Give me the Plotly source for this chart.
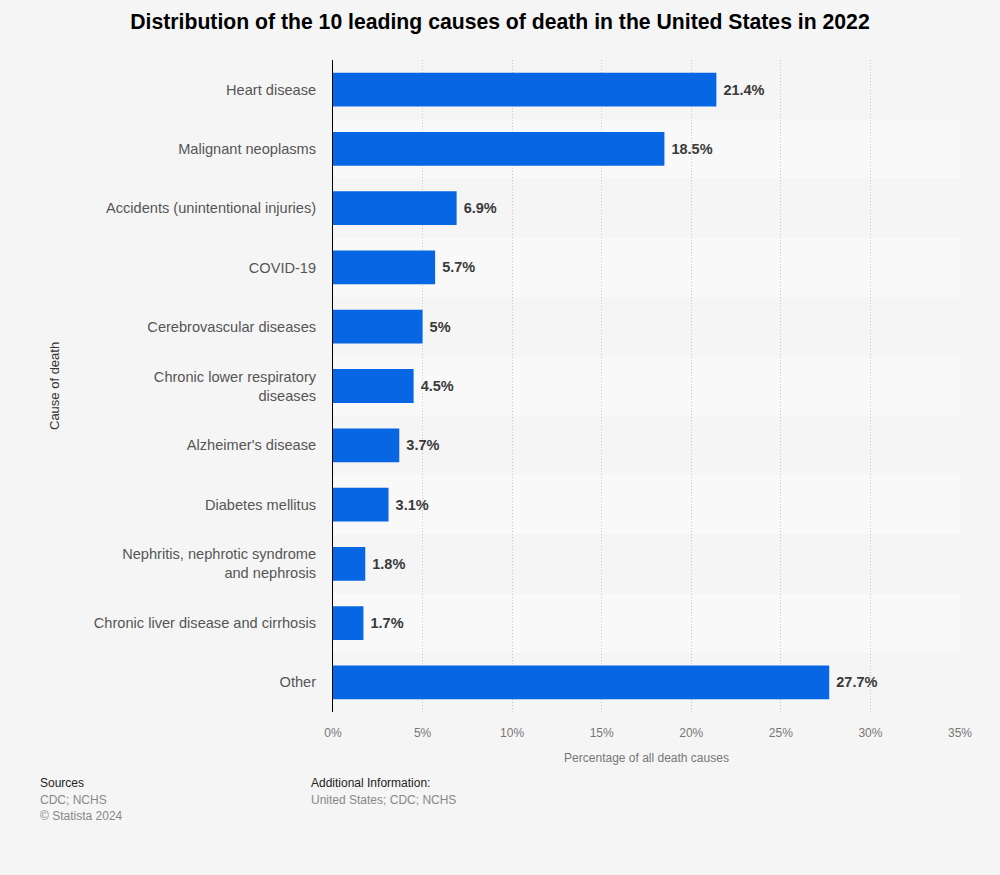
import plotly.graph_objects as go

categories = [
    "Heart disease",
    "Malignant neoplasms",
    "Accidents (unintentional injuries)",
    "COVID-19",
    "Cerebrovascular diseases",
    "Chronic lower respiratory<br>diseases",
    "Alzheimer's disease",
    "Diabetes mellitus",
    "Nephritis, nephrotic syndrome<br>and nephrosis",
    "Chronic liver disease and cirrhosis",
    "Other",
]
values = [21.4, 18.5, 6.9, 5.7, 5, 4.5, 3.7, 3.1, 1.8, 1.7, 27.7]
tick_vals = [0, 5, 10, 15, 20, 25, 30, 35]
tick_text = [f"{t}%" for t in tick_vals]
labels = [f"{v:g}%" for v in values]

FONT = "Liberation Sans, Arial, sans-serif"
L, R, T, B, W, H = 333, 40, 60, 163, 1000, 875

fig = go.Figure()
fig.add_trace(go.Bar(
    x=values, y=categories, orientation="h",
    marker=dict(color="#0766e4", line=dict(width=0)),
    width=0.57,
    text=labels, textposition="outside", cliponaxis=False,
    textfont=dict(family=FONT, size=14.5, color="#3a3a3a"),
    texttemplate="\u00a0<b>%{text}</b>",
    hoverinfo="skip",
))

# alternating row stripes
shapes = []
for i in range(len(categories)):
    if i % 2 == 1:
        shapes.append(dict(type="rect", xref="paper", yref="y",
                           x0=0, x1=1, y0=i - 0.5, y1=i + 0.5,
                           fillcolor="#f9f9f9", line=dict(width=0), layer="below"))

fig.update_layout(
    width=W, height=H,
    paper_bgcolor="#f5f5f5", plot_bgcolor="#f5f5f5",
    margin=dict(l=L, r=R, t=T, b=B),
    showlegend=False,
    shapes=shapes,
    title=dict(text="<b>Distribution of the 10 leading causes of death in the United States in 2022</b>",
               x=0.5, xanchor="center", y=1 - 22 / H, yanchor="middle",
               font=dict(family=FONT, size=21.2, color="#000000")),
    font=dict(family=FONT),
    xaxis=dict(
        range=[0, 35], tickvals=tick_vals, ticktext=tick_text,
        showgrid=True, gridcolor="#c8c8c8", griddash="1px,2px", gridwidth=1,
        zeroline=False, showline=False,
        ticks="", tickfont=dict(family=FONT, size=12, color="#777777"),
        ticklabelstandoff=12,
        title=dict(text="Percentage of all death causes", standoff=14,
                   font=dict(family=FONT, size=12, color="#777777")),
    ),
    yaxis=dict(
        autorange="reversed",
        showline=True, linecolor="#000000", linewidth=1,
        showgrid=False, ticks="", ticklabelstandoff=13,
        tickfont=dict(family=FONT, size=14.6, color="#555555"),
    ),
)

pw = W - L - R
ph = H - T - B

fig.add_annotation(text="Cause of death", xref="paper", yref="paper",
                   x=(54 - L) / pw, y=1 - (386 - T) / ph, textangle=-90,
                   xanchor="center", yanchor="middle", showarrow=False,
                   font=dict(family=FONT, size=13, color="#333333"))

ann = [
    dict(text="Sources", x=38, y=783),
    dict(text="CDC; NCHS", x=38, y=800, color="#888888"),
    dict(text="© Statista 2024", x=38, y=816, color="#888888"),
    dict(text="Additional Information:", x=309, y=783),
    dict(text="United States; CDC; NCHS", x=309, y=800, color="#888888"),
]
for a in ann:
    fig.add_annotation(text=a["text"], xref="paper", yref="paper",
                       x=(a["x"] - L) / pw, y=1 - (a["y"] - T) / ph,
                       xanchor="left", yanchor="middle", showarrow=False,
                       font=dict(family=FONT, size=12, color=a.get("color", "#222222")))

fig.write_html("out.html", config={"displayModeBar": False},
               post_script="document.body.style.margin='0';document.body.style.background='#f5f5f5';")
